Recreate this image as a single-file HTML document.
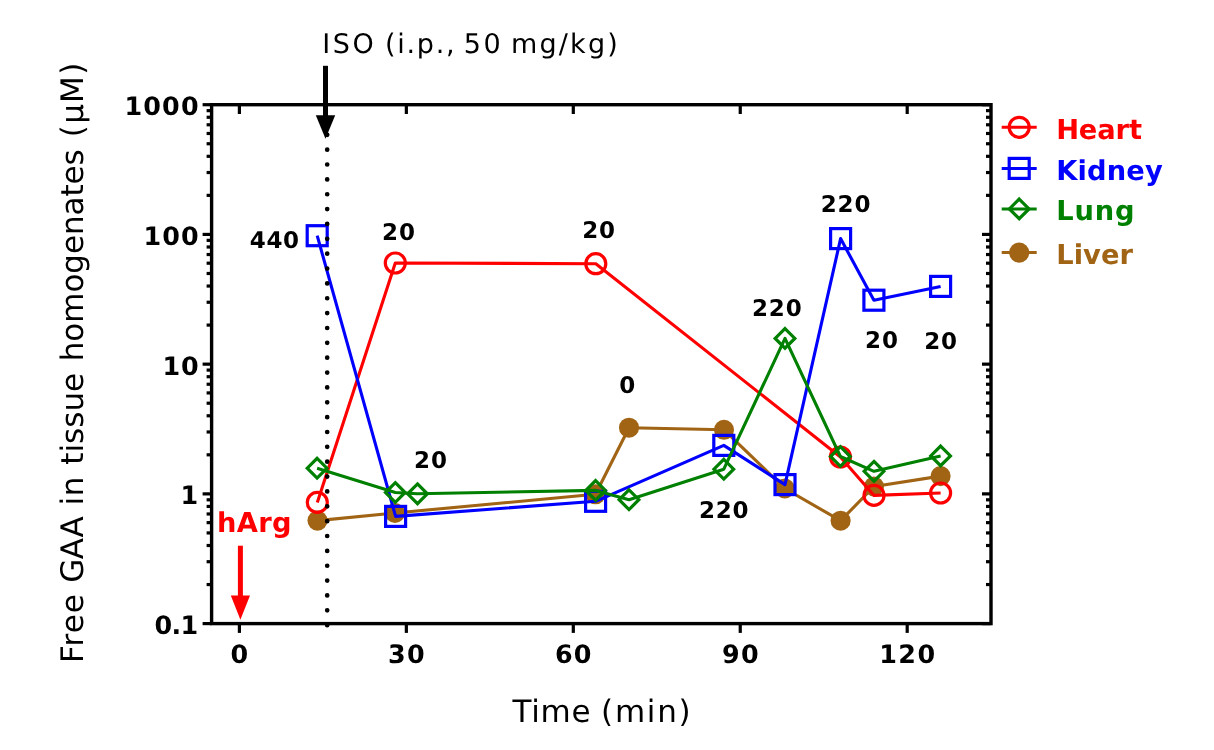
<!DOCTYPE html>
<html lang="en"><head><meta charset="utf-8"><title>Free GAA in tissue homogenates</title>
<style>html,body{margin:0;padding:0;background:#fff}body{width:1214px;height:750px;overflow:hidden}svg{display:block;will-change:transform}text{font-family:"DejaVu Sans","Liberation Sans",sans-serif;text-rendering:geometricPrecision}.b{font-weight:bold}</style></head><body>
<svg width="1214" height="750" viewBox="0 0 1214 750">
<rect width="1214" height="750" fill="#fff"/>
<g stroke="#000" stroke-width="3.2" fill="none"><path d="M239.4 623.6V632.9"/><path d="M239.4 104.7V114"/><path d="M406.35 623.6V632.9"/><path d="M406.35 104.7V114"/><path d="M573.3 623.6V632.9"/><path d="M573.3 104.7V114"/><path d="M740.25 623.6V632.9"/><path d="M740.25 104.7V114"/><path d="M907.2 623.6V632.9"/><path d="M907.2 104.7V114"/><path d="M211.6 623.6H202.6"/><path d="M991 623.6H982"/><path d="M211.6 584.55H206.6"/><path d="M991 584.55H986"/><path d="M211.6 561.71H206.6"/><path d="M991 561.71H986"/><path d="M211.6 545.5H206.6"/><path d="M991 545.5H986"/><path d="M211.6 532.93H206.6"/><path d="M991 532.93H986"/><path d="M211.6 522.65H206.6"/><path d="M991 522.65H986"/><path d="M211.6 513.97H206.6"/><path d="M991 513.97H986"/><path d="M211.6 506.45H206.6"/><path d="M991 506.45H986"/><path d="M211.6 499.81H206.6"/><path d="M991 499.81H986"/><path d="M211.6 493.88H202.6"/><path d="M991 493.88H982"/><path d="M211.6 454.82H206.6"/><path d="M991 454.82H986"/><path d="M211.6 431.98H206.6"/><path d="M991 431.98H986"/><path d="M211.6 415.77H206.6"/><path d="M991 415.77H986"/><path d="M211.6 403.2H206.6"/><path d="M991 403.2H986"/><path d="M211.6 392.93H206.6"/><path d="M991 392.93H986"/><path d="M211.6 384.24H206.6"/><path d="M991 384.24H986"/><path d="M211.6 376.72H206.6"/><path d="M991 376.72H986"/><path d="M211.6 370.09H206.6"/><path d="M991 370.09H986"/><path d="M211.6 364.15H202.6"/><path d="M991 364.15H982"/><path d="M211.6 325.1H206.6"/><path d="M991 325.1H986"/><path d="M211.6 302.26H206.6"/><path d="M991 302.26H986"/><path d="M211.6 286.05H206.6"/><path d="M991 286.05H986"/><path d="M211.6 273.48H206.6"/><path d="M991 273.48H986"/><path d="M211.6 263.2H206.6"/><path d="M991 263.2H986"/><path d="M211.6 254.52H206.6"/><path d="M991 254.52H986"/><path d="M211.6 247H206.6"/><path d="M991 247H986"/><path d="M211.6 240.36H206.6"/><path d="M991 240.36H986"/><path d="M211.6 234.43H202.6"/><path d="M991 234.43H982"/><path d="M211.6 195.37H206.6"/><path d="M991 195.37H986"/><path d="M211.6 172.53H206.6"/><path d="M991 172.53H986"/><path d="M211.6 156.32H206.6"/><path d="M991 156.32H986"/><path d="M211.6 143.75H206.6"/><path d="M991 143.75H986"/><path d="M211.6 133.48H206.6"/><path d="M991 133.48H986"/><path d="M211.6 124.79H206.6"/><path d="M991 124.79H986"/><path d="M211.6 117.27H206.6"/><path d="M991 117.27H986"/><path d="M211.6 110.64H206.6"/><path d="M991 110.64H986"/><path d="M211.6 104.7H202.6"/><path d="M991 104.7H982"/></g>
<rect x="211.6" y="104.7" width="779.4" height="518.9" fill="none" stroke="#000" stroke-width="3.4"/>
<polyline fill="none" stroke="#a06414" stroke-width="3.1" stroke-linejoin="round" points="317.5,520.6 395,513 595.5,494.3 629,427.7 724,429.8 784.8,488.5 840.6,520.7 874,486.5 940.6,476.1"/>
<circle cx="317.5" cy="520.6" r="10.05" fill="#a06414"/>
<circle cx="395" cy="513" r="10.05" fill="#a06414"/>
<circle cx="595.5" cy="494.3" r="10.05" fill="#a06414"/>
<circle cx="629" cy="427.7" r="10.05" fill="#a06414"/>
<circle cx="724" cy="429.8" r="10.05" fill="#a06414"/>
<circle cx="784.8" cy="488.5" r="10.05" fill="#a06414"/>
<circle cx="840.6" cy="520.7" r="10.05" fill="#a06414"/>
<circle cx="874" cy="486.5" r="10.05" fill="#a06414"/>
<circle cx="940.6" cy="476.1" r="10.05" fill="#a06414"/>
<polyline fill="none" stroke="#ff0000" stroke-width="3.1" stroke-linejoin="round" points="317.3,502.4 395.3,263 595.8,263.7 840.4,457 874,495.4 940.6,493"/>
<circle cx="317.3" cy="502.4" r="10.0" fill="none" stroke="#ff0000" stroke-width="3.2"/>
<circle cx="395.3" cy="263" r="10.0" fill="none" stroke="#ff0000" stroke-width="3.2"/>
<circle cx="595.8" cy="263.7" r="10.0" fill="none" stroke="#ff0000" stroke-width="3.2"/>
<circle cx="840.4" cy="457" r="10.0" fill="none" stroke="#ff0000" stroke-width="3.2"/>
<circle cx="874" cy="495.4" r="10.0" fill="none" stroke="#ff0000" stroke-width="3.2"/>
<circle cx="940.6" cy="493" r="10.0" fill="none" stroke="#ff0000" stroke-width="3.2"/>
<polyline fill="none" stroke="#0000ff" stroke-width="3.1" stroke-linejoin="round" points="317.2,235.7 395.6,516.4 595.6,501.3 723.8,445.4 785,484.6 840.6,238.6 873.9,300.2 940.6,286.4"/>
<rect x="307.2" y="225.7" width="20" height="20" fill="none" stroke="#0000ff" stroke-width="3.2"/>
<rect x="385.6" y="506.4" width="20" height="20" fill="none" stroke="#0000ff" stroke-width="3.2"/>
<rect x="585.6" y="491.3" width="20" height="20" fill="none" stroke="#0000ff" stroke-width="3.2"/>
<rect x="713.8" y="435.4" width="20" height="20" fill="none" stroke="#0000ff" stroke-width="3.2"/>
<rect x="775" y="474.6" width="20" height="20" fill="none" stroke="#0000ff" stroke-width="3.2"/>
<rect x="830.6" y="228.6" width="20" height="20" fill="none" stroke="#0000ff" stroke-width="3.2"/>
<rect x="863.9" y="290.2" width="20" height="20" fill="none" stroke="#0000ff" stroke-width="3.2"/>
<rect x="930.6" y="276.4" width="20" height="20" fill="none" stroke="#0000ff" stroke-width="3.2"/>
<polyline fill="none" stroke="#008000" stroke-width="3.1" stroke-linejoin="round" points="317.1,468.2 395.3,492.5 417.5,493.8 595.6,490.4 629,499.7 723.8,469.2 785,338.4 840.4,456.5 874,471.3 940.6,455.9"/>
<path d="M317.1 458.35L326.95 468.2L317.1 478.05L307.25 468.2Z" fill="none" stroke="#008000" stroke-width="3.2"/>
<path d="M395.3 482.65L405.15 492.5L395.3 502.35L385.45 492.5Z" fill="none" stroke="#008000" stroke-width="3.2"/>
<path d="M417.5 483.95L427.35 493.8L417.5 503.65L407.65 493.8Z" fill="none" stroke="#008000" stroke-width="3.2"/>
<path d="M595.6 480.55L605.45 490.4L595.6 500.25L585.75 490.4Z" fill="none" stroke="#008000" stroke-width="3.2"/>
<path d="M629 489.85L638.85 499.7L629 509.55L619.15 499.7Z" fill="none" stroke="#008000" stroke-width="3.2"/>
<path d="M723.8 459.35L733.65 469.2L723.8 479.05L713.95 469.2Z" fill="none" stroke="#008000" stroke-width="3.2"/>
<path d="M785 328.55L794.85 338.4L785 348.25L775.15 338.4Z" fill="none" stroke="#008000" stroke-width="3.2"/>
<path d="M840.4 446.65L850.25 456.5L840.4 466.35L830.55 456.5Z" fill="none" stroke="#008000" stroke-width="3.2"/>
<path d="M874 461.45L883.85 471.3L874 481.15L864.15 471.3Z" fill="none" stroke="#008000" stroke-width="3.2"/>
<path d="M940.6 446.05L950.45 455.9L940.6 465.75L930.75 455.9Z" fill="none" stroke="#008000" stroke-width="3.2"/>
<path d="M327.2 134.8V625.4" stroke="#000" stroke-width="4.7" stroke-linecap="round" stroke-dasharray="0 14.86" fill="none"/>
<path d="M325.5 65.8V118" stroke="#000" stroke-width="5" fill="none"/><path d="M315.8 115.3H335.2L325.5 138.7Z" fill="#000"/>
<path d="M240.4 545.7V598" stroke="#ff0000" stroke-width="5" fill="none"/><path d="M230.8 595.5H250L240.4 619.7Z" fill="#ff0000"/>
<path d="M1001.7 127.3H1036.7" stroke="#ff0000" stroke-width="3" fill="none"/>
<circle cx="1019.2" cy="127.3" r="10.0" fill="none" stroke="#ff0000" stroke-width="3.2"/>
<path d="M1001.7 168.4H1036.7" stroke="#0000ff" stroke-width="3" fill="none"/>
<rect x="1009.2" y="158.4" width="20" height="20" fill="none" stroke="#0000ff" stroke-width="3.2"/>
<path d="M1001.7 208.9H1036.7" stroke="#008000" stroke-width="3" fill="none"/>
<path d="M1019.2 199.05L1029.05 208.9L1019.2 218.75L1009.35 208.9Z" fill="none" stroke="#008000" stroke-width="3.2"/>
<path d="M1001.7 252.6H1036.7" stroke="#a06414" stroke-width="3" fill="none"/>
<circle cx="1019.2" cy="252.6" r="10.05" fill="#a06414"/>
<text x="124.52" y="115.2" font-size="25.4" class="b" fill="#000" letter-spacing="1.13">1000</text>
<text x="143.52" y="244.93" font-size="25.4" class="b" fill="#000" letter-spacing="1.03">100</text>
<text x="162.52" y="374.65" font-size="25.4" class="b" fill="#000" letter-spacing="0.74">10</text>
<text x="180.53" y="504.38" font-size="25.4" class="b" fill="#000">1</text>
<text x="154.41" y="634.1" font-size="25.4" class="b" fill="#000" letter-spacing="-0.6">0.1</text>
<text x="230.42" y="663.1" font-size="25.4" class="b" fill="#000">0</text>
<text x="388.01" y="663.1" font-size="25.4" class="b" fill="#000" letter-spacing="1.25">30</text>
<text x="555.01" y="663.1" font-size="25.4" class="b" fill="#000" letter-spacing="1.05">60</text>
<text x="722.11" y="663.1" font-size="25.4" class="b" fill="#000" letter-spacing="1.15">90</text>
<text x="879.22" y="663.1" font-size="25.4" class="b" fill="#000" letter-spacing="1.48">120</text>
<text x="249.68" y="247.8" font-size="23.0" class="b" fill="#000" letter-spacing="0.71">440</text>
<text x="382" y="240.3" font-size="23.0" class="b" fill="#000" letter-spacing="0.9">20</text>
<text x="582.2" y="237.6" font-size="23.0" class="b" fill="#000" letter-spacing="0.9">20</text>
<text x="414" y="468" font-size="23.0" class="b" fill="#000" letter-spacing="1.1">20</text>
<text x="619.31" y="393.2" font-size="23.0" class="b" fill="#000">0</text>
<text x="699" y="518" font-size="23.0" class="b" fill="#000" letter-spacing="0.7">220</text>
<text x="752" y="315.8" font-size="23.0" class="b" fill="#000" letter-spacing="0.85">220</text>
<text x="820.7" y="211.7" font-size="23.0" class="b" fill="#000" letter-spacing="0.85">220</text>
<text x="864.9" y="347.9" font-size="23.0" class="b" fill="#000" letter-spacing="1.1">20</text>
<text x="924.2" y="348.6" font-size="23.0" class="b" fill="#000" letter-spacing="0.8">20</text>
<text x="1056.17" y="138.7" font-size="27.3" class="b" fill="#ff0000" letter-spacing="-0.13">Heart</text>
<text x="1056.17" y="179.7" font-size="27.3" class="b" fill="#0000ff" letter-spacing="0.17">Kidney</text>
<text x="1056.17" y="220" font-size="27.3" class="b" fill="#008000" letter-spacing="0.86">Lung</text>
<text x="1056.17" y="264.2" font-size="27.3" class="b" fill="#a06414" letter-spacing="0.1">Liver</text>
<text x="216.97" y="532" font-size="27.3" class="b" fill="#ff0000" letter-spacing="0.31">hArg</text>
<text y="52.9" font-size="27" fill="#000"><tspan x="322.34 332.69 352.45">ISO</tspan> <tspan x="384.89" letter-spacing="1.75">(i.p.,</tspan> <tspan x="463.81" letter-spacing="2.6">50</tspan> <tspan x="510.89" letter-spacing="2.21">mg/kg)</tspan></text>
<text y="721.7" font-size="31" fill="#000"><tspan x="512.48" letter-spacing="0.76">Time</tspan> <tspan x="601.08" letter-spacing="1.72">(min)</tspan></text>
<text transform="translate(83.2 0) rotate(-90)" y="0" font-size="31" fill="#000"><tspan x="-663.11" letter-spacing="1.09">Free</tspan> <tspan x="-582.75" letter-spacing="-0.43">GAA</tspan> <tspan x="-505.51" letter-spacing="0.66">in</tspan> <tspan x="-464.78" letter-spacing="0.03">tissue</tspan> <tspan x="-361.22" letter-spacing="-0.07">homogenates</tspan> <tspan x="-137.22" letter-spacing="1.26">(µM)</tspan></text>
</svg></body></html>
